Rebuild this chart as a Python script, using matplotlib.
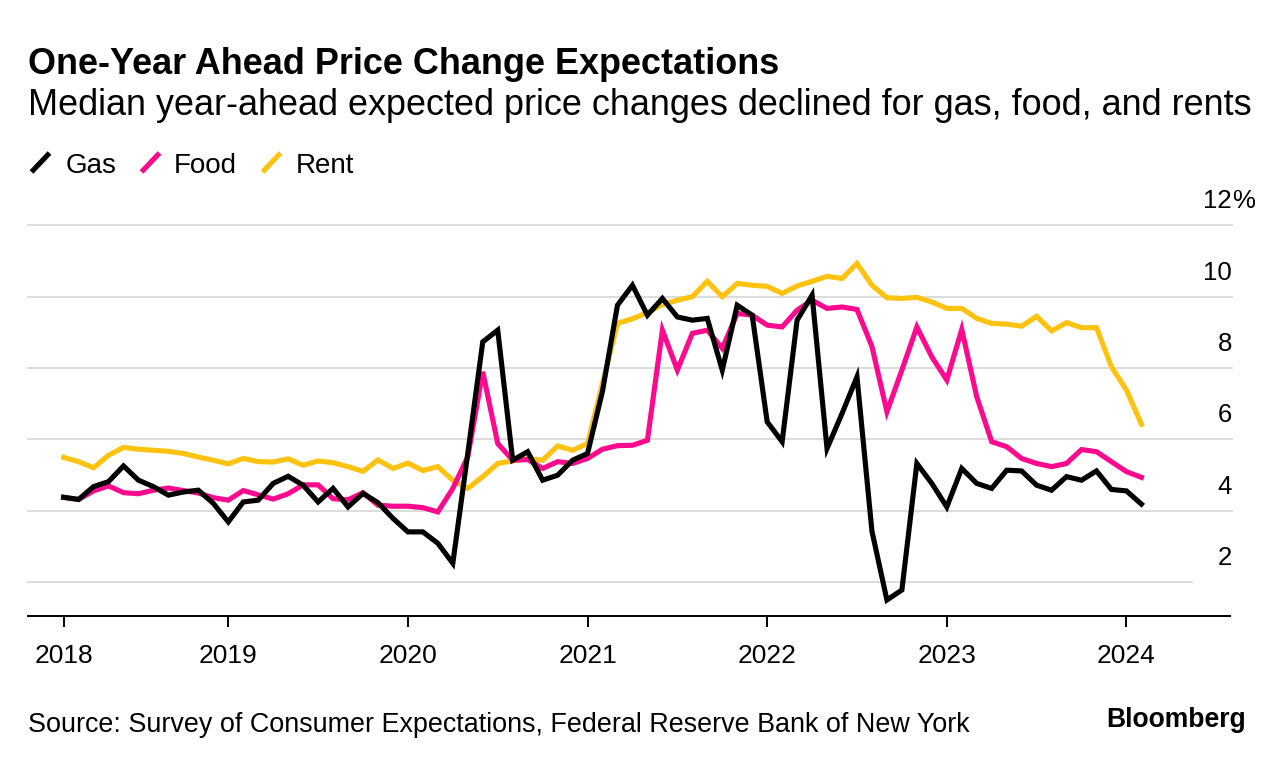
import matplotlib
matplotlib.use("Agg")
import matplotlib.pyplot as plt
from matplotlib.lines import Line2D

# ---------------- data ----------------
# month index counted from Jan 2018 = 0 (first point = Feb 2018)
months = list(range(1, 74))

gas = [4.37, 4.31, 4.67, 4.81, 5.25, 4.85, 4.67, 4.43, 4.52, 4.57,
       4.20, 3.68, 4.24, 4.29, 4.76, 4.96, 4.71, 4.24, 4.62, 4.10,
       4.48, 4.22, 3.78, 3.40, 3.40, 3.08, 2.52, 5.60, 8.73, 9.06,
       5.41, 5.65, 4.85, 4.99, 5.41, 5.60, 7.35, 9.76, 10.32, 9.48,
       9.95, 9.43, 9.34, 9.39, 7.94, 9.76, 9.48, 6.49, 5.93, 9.34,
       10.04, 5.74, 6.72, 7.75, 3.42, 1.49, 1.77, 5.32, 4.76, 4.10,
       5.18, 4.76, 4.62, 5.13, 5.11, 4.71, 4.57, 4.95, 4.85, 5.11,
       4.59, 4.55, 4.18]

food = [4.37, 4.31, 4.55, 4.69, 4.50, 4.47, 4.57, 4.63, 4.56, 4.49,
        4.36, 4.29, 4.56, 4.44, 4.32, 4.47, 4.72, 4.72, 4.33, 4.30,
        4.50, 4.15, 4.12, 4.12, 4.08, 3.96, 4.62, 5.51, 7.89, 5.88,
        5.41, 5.43, 5.18, 5.37, 5.32, 5.46, 5.72, 5.82, 5.83, 5.97,
        9.06, 7.94, 8.97, 9.06, 8.55, 9.53, 9.48, 9.20, 9.15, 9.62,
        9.90, 9.67, 9.71, 9.64, 8.60, 6.77, 7.94, 9.15, 8.31, 7.66,
        9.08, 7.19, 5.93, 5.79, 5.46, 5.32, 5.23, 5.32, 5.71, 5.65,
        5.37, 5.09, 4.93]

rent = [5.49, 5.37, 5.20, 5.55, 5.77, 5.72, 5.69, 5.66, 5.60, 5.50,
        5.41, 5.31, 5.46, 5.37, 5.36, 5.45, 5.27, 5.39, 5.34, 5.23,
        5.10, 5.42, 5.18, 5.33, 5.12, 5.23, 4.85, 4.62, 4.95, 5.32,
        5.39, 5.46, 5.41, 5.81, 5.69, 5.88, 7.57, 9.25, 9.38, 9.55,
        9.78, 9.90, 10.00, 10.43, 10.00, 10.37, 10.32, 10.29, 10.09, 10.30,
        10.43, 10.57, 10.51, 10.93, 10.32, 9.97, 9.95, 9.98, 9.85, 9.67,
        9.67, 9.39, 9.25, 9.23, 9.17, 9.45, 9.04, 9.27, 9.13, 9.13,
        8.03, 7.38, 6.42]

year_ticks = [1, 12, 24, 36, 48, 60, 72]
year_labels = ["2018", "2019", "2020", "2021", "2022", "2023", "2024"]
y_ticks = [2, 4, 6, 8, 10, 12]
y_labels = ["2", "4", "6", "8", "10", "12"]

series_names = ["Gas", "Food", "Rent"]
colors = {"Gas": "#000000", "Food": "#ff0a8f", "Rent": "#ffc20e"}

title = "One-Year Ahead Price Change Expectations"
subtitle = "Median year-ahead expected price changes declined for gas, food, and rents"
source = "Source: Survey of Consumer Expectations, Federal Reserve Bank of New York"

# ---------------- figure ----------------
plt.rcParams["font.family"] = ["Liberation Sans", "DejaVu Sans"]
W, H = 1285, 764
fig = plt.figure(figsize=(W / 100, H / 100), dpi=100)


def fx(px):
    return px / W


def fy(py):
    return 1 - py / H


ax_l, ax_r, ax_t, ax_b = 28, 1230, 196.5, 616
ax = fig.add_axes([fx(ax_l), fy(ax_b), (ax_r - ax_l) / W, (ax_b - ax_t) / H])
ax.set_xlim(-1.38, 78.92)
ax.set_ylim(1.04, 12.81)

for s in ["top", "left", "right"]:
    ax.spines[s].set_visible(False)
ax.spines["bottom"].set_linewidth(1.4)
ax.spines["bottom"].set_color("#000000")

for v in y_ticks:
    xmax = 0.968 if v == 2 else 1.0017
    ax.axhline(v, xmin=0, xmax=xmax, color="#d9d9d9", lw=1.3, zorder=1,
               clip_on=False)

lw = 3.7
ax.plot(months, rent, color=colors["Rent"], lw=lw, zorder=2,
        solid_joinstyle="miter")
ax.plot(months, food, color=colors["Food"], lw=lw, zorder=3,
        solid_joinstyle="miter")
ax.plot(months, gas, color=colors["Gas"], lw=lw, zorder=4,
        solid_joinstyle="miter")

ax.set_xticks(year_ticks, year_labels)
ax.tick_params(axis="x", length=8, width=1.4, direction="out", pad=12,
               labelsize=19, colors="#000000")
ax.set_yticks([])

ytr = ax.get_yaxis_transform()
for v, lab in zip(y_ticks, y_labels):
    ax.text(1.0017, v + 0.477, lab, transform=ytr, ha="right",
            va="baseline", fontsize=18.5, clip_on=False)
    if v == 12:
        ax.text(1.0017, v + 0.477, "%", transform=ytr, ha="left",
                va="baseline", fontsize=18.5, clip_on=False)

# ---------------- texts ----------------
t_title = fig.text(fx(28), fy(74), title, fontsize=26, fontweight="bold",
                   ha="left", va="baseline")
t_sub = fig.text(fx(28), fy(115), subtitle, fontsize=26, ha="left",
                 va="baseline")
t_src = fig.text(fx(28), fy(732), source, fontsize=18, ha="left",
                 va="baseline")
t_bb = fig.text(fx(1246), fy(727), "Bloomberg", fontsize=19,
                fontweight="bold", ha="right", va="baseline")

leg_slash = {"Gas": 31.5, "Food": 141.5, "Rent": 262.5}
leg_text = {"Gas": 66, "Food": 174, "Rent": 296}
leg_items = []
for name in series_names:
    x0 = leg_slash[name]
    fig.add_artist(Line2D([fx(x0), fx(x0 + 18)], [fy(172), fy(153)],
                          color=colors[name], lw=3.7,
                          solid_capstyle="butt"))
    leg_items.append(fig.text(fx(leg_text[name]), fy(173), name,
                              fontsize=20, ha="left", va="baseline"))

fig.canvas.draw()
r = fig.canvas.get_renderer()


def fit(t, target):
    w = t.get_window_extent(r).width
    t.set_fontsize(t.get_fontsize() * target / w)


fit(t_title, 780 - 28)
fit(t_sub, 1250 - 28)
fit(t_src, 967 - 28)
fit(t_bb, 1246 - 1106)

fig.savefig("out.png", dpi=100, facecolor="white")
